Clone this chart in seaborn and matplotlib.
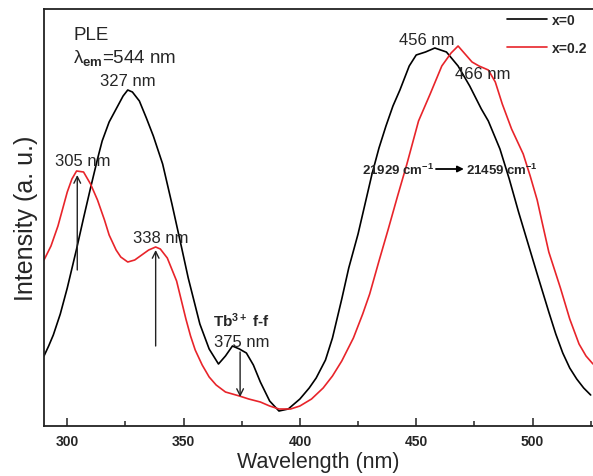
import pandas as pd
import matplotlib
matplotlib.use("Agg")
import matplotlib.pyplot as plt
import seaborn as sns

# excitation spectra (wavelength in nm, intensity in a.u.)
wl_x0 = [290, 292, 294, 297, 300, 304, 307, 310, 313, 315, 318, 321, 324, 326, 328, 331,
         334, 337, 341, 345, 349, 352, 357, 361, 365, 368, 371, 374, 377, 380, 383,
         387, 391, 395, 400, 404, 407, 411, 414, 418, 421, 425, 428, 431, 434, 437,
         440, 443, 447, 450, 454, 458, 463, 468, 473, 478, 481, 486, 490, 494, 498,
         502, 507, 510, 513, 516, 519, 522, 525]
int_x0 = [70, 80, 91, 112, 138, 177, 208, 238, 267, 285, 304, 317, 330, 336, 334, 325,
          308, 290, 262, 222, 180, 148, 102, 77, 62, 70, 80, 77, 73, 61, 44,
          25, 15, 17, 27, 38, 48, 66, 88, 127, 158, 192, 222, 252, 278, 300,
          320, 336, 360, 371, 374, 378, 374, 360, 340, 317, 305, 277, 247, 214, 183,
          152, 114, 92, 73, 58, 47, 38, 31]

wl_x02 = [290, 293, 296, 300, 302, 304, 307, 310, 313, 316, 318, 321, 323, 326, 329,
          332, 335, 338, 340, 343, 347, 349, 351, 353, 355, 358, 361, 364, 368, 374,
          378, 383, 387, 391, 396, 400, 405, 410, 414, 418, 423, 427, 430, 434, 438,
          442, 446, 451, 456, 461, 465, 468, 471, 474, 477, 481, 484, 487, 491, 496,
          499, 502, 504, 507, 512, 516, 520, 523, 526]
int_x02 = [166, 180, 200, 234, 247, 255, 254, 242, 226, 206, 191, 176, 169, 164, 166,
           171, 176, 179, 177, 168, 145, 126, 107, 90, 76, 61, 49, 41, 34, 30,
           27, 24, 20, 17, 17, 20, 27, 38, 50, 65, 88, 112, 132, 165, 197,
           230, 262, 305, 332, 360, 373, 380, 372, 364, 360, 356, 344, 322, 297, 272,
           250, 226, 205, 174, 138, 107, 82, 70, 62]

series_names = ["x=0", "x=0.2"]
series_colors = ["black", "#e8242a"]
x_ticks = [300, 350, 400, 450, 500]

df = pd.concat([
    pd.DataFrame({"wl": wl_x0, "intensity": int_x0, "sample": series_names[0]}),
    pd.DataFrame({"wl": wl_x02, "intensity": int_x02, "sample": series_names[1]}),
])

sns.set_theme(style="ticks")
plt.rcParams["font.family"] = ["Liberation Sans", "DejaVu Sans"]
plt.rcParams["mathtext.fontset"] = "custom"
plt.rcParams["mathtext.rm"] = "Liberation Sans"
plt.rcParams["mathtext.bf"] = "Liberation Sans:bold"
plt.rcParams["mathtext.it"] = "Liberation Sans:italic"

fig = plt.figure(figsize=(5.93, 4.77), dpi=100)
ax = fig.add_axes([44 / 593, 50 / 477, 549 / 593, 417 / 477])

sns.lineplot(data=df, x="wl", y="intensity", hue="sample",
             palette=dict(zip(series_names, series_colors)),
             estimator=None, sort=False, lw=1.2, ax=ax)

ax.set_xlim(290, 526)
ax.set_ylim(0, 417)
ax.set_xticks(x_ticks)
ax.set_xticks([325, 375, 425, 475, 525], minor=True)
ax.set_yticks([])
ax.tick_params(axis="x", which="major", direction="in", length=6, width=1.1,
               labelsize=10, pad=6, color="#222222")
ax.tick_params(axis="x", which="minor", direction="in", length=3.5, width=1.1,
               color="#222222")
for lab in ax.get_xticklabels():
    lab.set_fontweight("bold")
for side in ["left", "bottom", "top"]:
    ax.spines[side].set_linewidth(1.3)
    ax.spines[side].set_color("#222222")
ax.spines["right"].set_visible(False)

ax.set_xlabel("Wavelength (nm)", fontsize=15.5, labelpad=2)
ax.set_ylabel("Intensity (a. u.)", fontsize=18, labelpad=4)

handles, labels = ax.get_legend_handles_labels()
ax.legend(handles, labels, loc="upper right", bbox_to_anchor=(0.989, 0.99),
          frameon=False, prop={"weight": "bold", "size": 10},
          handlelength=2.9, handletextpad=0.3, labelspacing=1.0,
          borderpad=0, borderaxespad=0)

# labels on the spectra
ax.text(302.5, 387, "PLE", fontsize=13.5, va="baseline")
ax.text(302.5, 364, r"λ$_{\mathbf{em}}$=544 nm", fontsize=13.5, va="baseline")
ax.text(326, 341, "327 nm", fontsize=12, ha="center", va="baseline")
ax.text(306.5, 261, "305 nm", fontsize=12, ha="center", va="baseline")
ax.text(340, 184, "338 nm", fontsize=12, ha="center", va="baseline")
ax.text(374.8, 100, r"Tb$^{\mathbf{3+}}$ f-f", fontsize=11, fontweight="bold",
        ha="center", va="baseline")
ax.text(374.8, 80, "375 nm", fontsize=12, ha="center", va="baseline")
ax.text(454.5, 382, "456 nm", fontsize=12, ha="center", va="baseline")
ax.text(478.5, 348, "466 nm", fontsize=12, ha="center", va="baseline")

ax.text(457.8, 257, "21929 cm$^{\\mathbf{-1}}$", fontsize=9.5, fontweight="bold",
        ha="right", va="center")
ax.annotate("", xy=(470.5, 257), xytext=(458.5, 257),
            arrowprops=dict(arrowstyle="-|>", lw=1.3, color="black",
                            shrinkA=0, shrinkB=0, mutation_scale=9))
ax.text(471.5, 257, "21459 cm$^{\\mathbf{-1}}$", fontsize=9.5, fontweight="bold",
        ha="left", va="center")

arrow_style = dict(arrowstyle="->", lw=1.0, color="#222222",
                   shrinkA=0, shrinkB=0, mutation_scale=12)
ax.annotate("", xy=(304.3, 251), xytext=(304.3, 156), arrowprops=arrow_style)
ax.annotate("", xy=(338, 176), xytext=(338, 80), arrowprops=arrow_style)
ax.annotate("", xy=(374.3, 29), xytext=(374.3, 74), arrowprops=arrow_style)

fig.savefig("out.png", dpi=100)
plt.close(fig)
